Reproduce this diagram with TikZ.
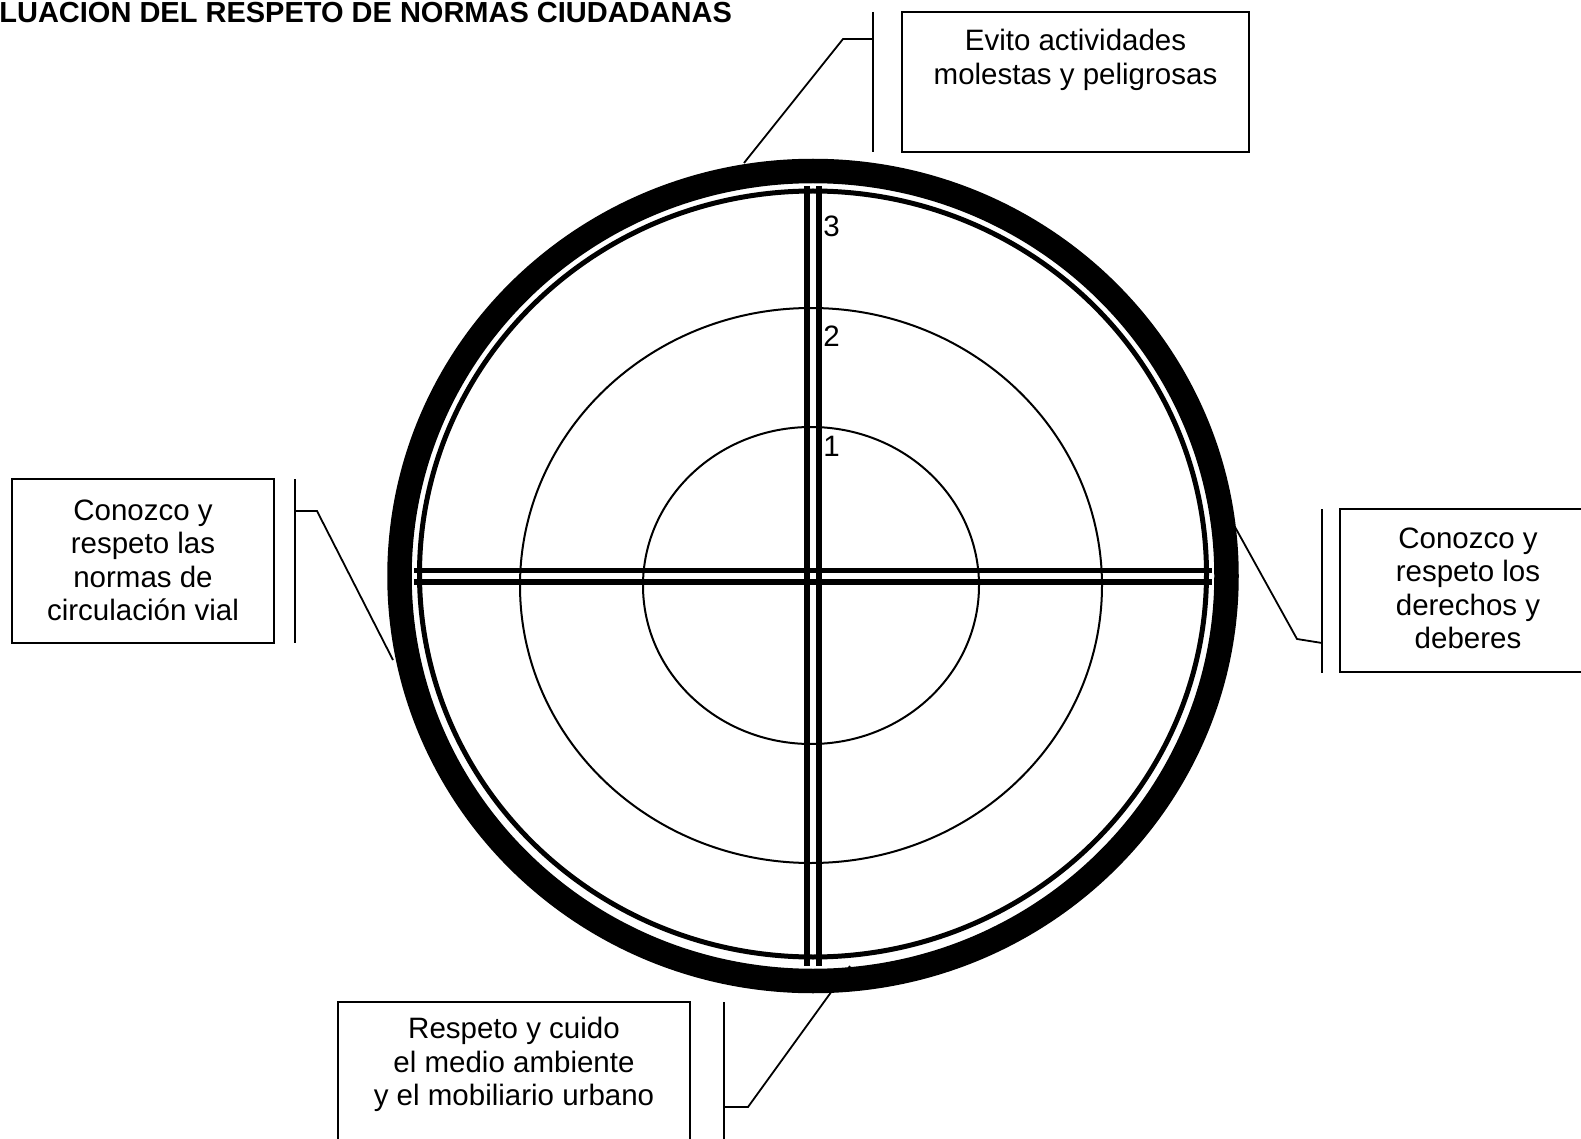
\documentclass[tikz,border=0pt]{standalone}
\usepackage{fontspec}
\setmainfont{Liberation Sans}
\usetikzlibrary{positioning}
\begin{document}
\begin{tikzpicture}[x=0.5pt,y=-0.5pt,
  caja/.style={draw,line width=1pt,outer sep=0pt,inner sep=0pt},
  texto/.style={align=center,inner sep=0pt,font=\fontsize{14.75}{16.75}\selectfont},
  cifra/.style={anchor=base west,inner sep=0pt,font=\fontsize{14.75}{16.75}\selectfont},
  guia/.style={line width=0.9pt}]
\useasboundingbox (0,0) rectangle (1581,1139);

\coordinate (centro) at (813,576);
\coordinate (borde) at (813,574);
\coordinate (diana) at (811,585.5);

\coordinate (hA1) at (414,570.5);
\coordinate (hA2) at (1212,570.5);
\coordinate (hB1) at (414,582);
\coordinate (hB2) at (1212,582);
\coordinate (vA1) at (807,186);
\coordinate (vA2) at (807,966);
\coordinate (vB1) at (819,186);
\coordinate (vB2) at (819,966);

\coordinate (evito) at (1075.5,82);
\coordinate (vial) at (143,561);
\coordinate (deberes) at (1468,590.5);
\coordinate (medio) at (514,1081);

\draw[line width=12.25pt] (centro) ellipse [x radius=206.75pt, y radius=202.5pt];
\draw[line width=2.5pt] (borde) ellipse [x radius=196.75pt, y radius=191.5pt];
\draw[line width=1pt] (diana) ellipse [x radius=145.5pt, y radius=138.75pt];
\draw[line width=1pt] (diana) ellipse [x radius=84pt, y radius=79.25pt];

\draw[line width=2.75pt] (hA1)--(hA2);
\draw[line width=2.75pt] (hB1)--(hB2);
\draw[line width=3pt] (vA1)--(vA2);
\draw[line width=3pt] (vB1)--(vB2);

\node[cifra] (n3) at (823,237){3};
\node[cifra] (n2) at (823,347){2};
\node[cifra] (n1) at (823,457){1};

\node[anchor=base west,inner sep=0pt,font=\bfseries\fontsize{14.5}{16}\selectfont] (titulo) at (-1,23){LUACION DEL RESPETO DE NORMAS CIUDADANAS};

\node[caja,minimum width=173.5pt,minimum height=70pt] (evito) at (evito){};
\node[texto,below=8.5pt of evito.north] (evitotxt){Evito actividades\\molestas y peligrosas};
\node[caja,minimum width=131pt,minimum height=82pt] (vial) at (vial){};
\node[texto,below=10pt of vial.north] (vialtxt){Conozco y\\respeto las\\normas de\\circulación vial};
\node[caja,minimum width=128pt,minimum height=81.5pt] (deberes) at (deberes){};
\node[texto,below=9pt of deberes.north] (deberestxt){Conozco y\\respeto los\\derechos y\\deberes};
\node[caja,minimum width=176pt,minimum height=79pt] (medio) at (medio){};
\node[texto,below=7.5pt of medio.north] (mediotxt){Respeto y cuido\\el medio ambiente\\y el mobiliario urbano};

\coordinate (evBarra1) at (873,12);
\coordinate (evBarra2) at (873,152);
\coordinate (evCodo1) at (873,39);
\coordinate (evCodo2) at (843,39);
\coordinate (evPunta) at (744,163);
\draw[line width=1pt] (evBarra1)--(evBarra2);
\draw[guia] (evCodo1)--(evCodo2)--(evPunta);

\coordinate (viBarra1) at (295,479);
\coordinate (viBarra2) at (295,643);
\coordinate (viCodo1) at (295,511);
\coordinate (viCodo2) at (317,511);
\coordinate (viPunta) at (393,660);
\draw[line width=1pt] (viBarra1)--(viBarra2);
\draw[guia] (viCodo1)--(viCodo2)--(viPunta);

\coordinate (deBarra1) at (1322,509);
\coordinate (deBarra2) at (1322,673);
\coordinate (deCodo1) at (1322,643);
\coordinate (deCodo2) at (1297,639);
\coordinate (dePunta) at (1235,527);
\draw[line width=1pt] (deBarra1)--(deBarra2);
\draw[guia] (deCodo1)--(deCodo2)--(dePunta);

\coordinate (meBarra1) at (724,1002);
\coordinate (meBarra2) at (724,1170);
\coordinate (meCodo1) at (724,1107);
\coordinate (meCodo2) at (748,1107);
\coordinate (mePunta) at (850,966);
\draw[line width=1pt] (meBarra1)--(meBarra2);
\draw[guia] (meCodo1)--(meCodo2)--(mePunta);

\end{tikzpicture}
\end{document}
